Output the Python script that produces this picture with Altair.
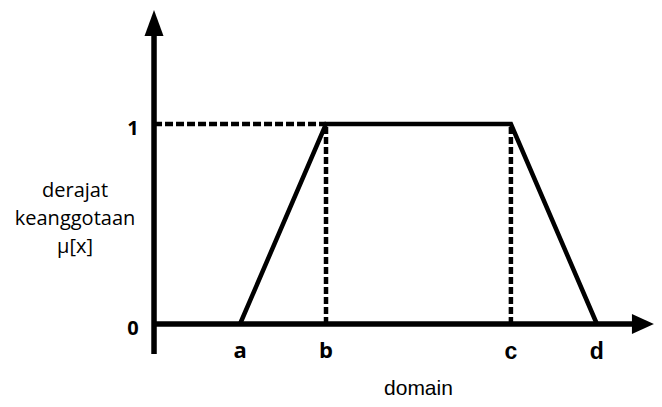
import altair as alt
import pandas as pd

# membership function (trapezoid) breakpoints, in domain units
points_x = [1.0, 2.0, 4.15, 5.15]
points_mu = [0, 1, 1, 0]
point_labels = ["a", "b", "c", "d"]

mu_ticks = [0, 1]
mu_tick_labels = ["0", "1"]

y_title_lines = ["derajat", "keanggotaan", "μ[x]"]
x_title = "domain"

# drawing extents of the axes (domain units)
x_lo, x_hi = -1.698, 5.814
y_lo, y_hi = -0.375, 1.58
yaxis_bottom, yaxis_top, yaxis_tip = -0.15, 1.44, 1.57
xaxis_end, xaxis_tip = 5.56, 5.81

W, H = 646, 391

xs = alt.Scale(domain=[x_lo, x_hi], nice=False, zero=False)
ys = alt.Scale(domain=[y_lo, y_hi], nice=False, zero=False)

def X(f):
    return alt.X(f, type="quantitative", scale=xs, axis=None)

def Y(f):
    return alt.Y(f, type="quantitative", scale=ys, axis=None)

# trapezoid
trap_df = pd.DataFrame({"x": points_x, "mu": points_mu, "i": range(len(points_x))})
trap = alt.Chart(trap_df).mark_line(color="black", strokeWidth=4.5, strokeJoin="miter").encode(
    x=X("x"), y=Y("mu"), order="i:O"
)

# dashed guides
b, c = points_x[1], points_x[2]
hdash_df = pd.DataFrame({"x": [0.0], "x2": [b], "mu": [1]})
hdash = alt.Chart(hdash_df).mark_rule(color="black", strokeWidth=4.5, strokeDash=[8, 3]).encode(
    x=X("x"), x2="x2", y=Y("mu")
)
vdash_df = pd.DataFrame({"x": [b, c], "mu0": [0, 0], "mu1": [1, 1]})
vdash = alt.Chart(vdash_df).mark_rule(color="black", strokeWidth=4.5, strokeDash=[7, 3]).encode(
    x=X("x"), y=Y("mu0"), y2="mu1"
)

# axes lines
yaxis_df = pd.DataFrame({"x": [0.0], "y0": [yaxis_bottom], "y1": [yaxis_top]})
yaxis = alt.Chart(yaxis_df).mark_rule(color="black", strokeWidth=5.5).encode(
    x=X("x"), y=Y("y0"), y2="y1"
)
xaxis_df = pd.DataFrame({"x0": [0.0], "x1": [xaxis_end], "mu": [0]})
xaxis = alt.Chart(xaxis_df).mark_rule(color="black", strokeWidth=5.5).encode(
    x=X("x0"), x2="x1", y=Y("mu")
)

# arrow heads
yarrow_df = pd.DataFrame({"x": [0.0], "y": [(yaxis_top + yaxis_tip) / 2]})
yarrow = alt.Chart(yarrow_df).mark_point(
    shape="M0,-1L0.73,1L-0.73,1Z", size=676, filled=True, color="black", opacity=1, strokeWidth=0
).encode(x=X("x"), y=Y("y"))
xarrow_df = pd.DataFrame({"x": [(xaxis_end + xaxis_tip) / 2], "y": [0]})
xarrow = alt.Chart(xarrow_df).mark_point(
    shape="M1,0L-1,0.9L-1,-0.9Z", size=484, filled=True, color="black", opacity=1, strokeWidth=0
).encode(x=X("x"), y=Y("y"))

# tick labels on membership axis
tick_df = pd.DataFrame({"x": [0.0] * len(mu_ticks), "mu": mu_ticks, "label": mu_tick_labels})
ticks = alt.Chart(tick_df).mark_text(
    font="Open Sans", fontSize=20, fontWeight="bold", color="black", align="center",
    baseline="middle", dx=-21, dy=5
).encode(x=X("x"), y=Y("mu"), text="label:N")

# point labels
pl_df = pd.DataFrame({"x": points_x, "mu": [0] * 4, "label": point_labels})
pl_ab = alt.Chart(pl_df.iloc[:2]).mark_text(
    font="Open Sans", fontSize=22, fontWeight="bold", color="black", align="center",
    baseline="alphabetic", dy=34
).encode(x=X("x"), y=Y("mu"), text="label:N")
pl_cd = alt.Chart(pl_df.iloc[2:]).mark_text(
    font="Liberation Sans", fontSize=23, fontWeight="bold", color="black", align="center",
    baseline="alphabetic", dy=35
).encode(x=X("x"), y=Y("mu"), text="label:N")

# titles
yt_df = pd.DataFrame({"x": [0.0], "mu": [0.5]})
ytitle = alt.Chart(yt_df).mark_text(
    text=y_title_lines, font="Open Sans", fontSize=20, color="black", align="center",
    baseline="alphabetic", lineHeight=28, dx=-79, dy=-27
).encode(x=X("x"), y=Y("mu"))

xt_df = pd.DataFrame({"x": [(points_x[0] + points_x[3]) / 2], "mu": [0]})
xtitle = alt.Chart(xt_df).mark_text(
    text=x_title, font="Liberation Sans", fontSize=21, color="black", align="center",
    baseline="alphabetic", dy=71
).encode(x=X("x"), y=Y("mu"))

chart = alt.layer(
    hdash, vdash, trap, yaxis, xaxis, yarrow, xarrow, ticks, pl_ab, pl_cd, ytitle, xtitle
).properties(
    width=W, height=H, autosize=alt.AutoSizeParams(type="none"), padding=0
).configure_view(stroke=None)

chart.save("out.html", embed_options={"renderer": "svg", "actions": False})
